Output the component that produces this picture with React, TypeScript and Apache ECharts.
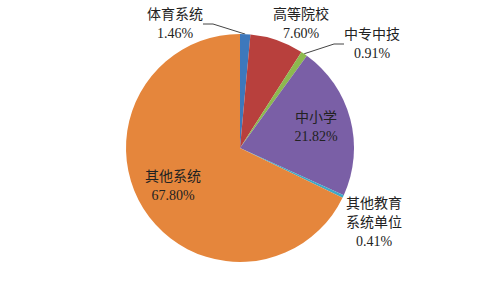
import React, { useEffect, useRef } from "react";
import * as echarts from "echarts";

const categories = ["体育系统", "高等院校", "中专中技", "中小学", "其他教育系统单位", "其他系统"];
const labelNames = ["体育系统", "高等院校", "中专中技", "中小学", "其他教育\n系统单位", "其他系统"];
const values = [1.46, 7.6, 0.91, 21.82, 0.41, 67.8];
const colors = ["#3D78BC", "#B8403D", "#8DB94F", "#7A5FA6", "#3FA8C6", "#E5863C"];
const showLine = [true, false, true, false, false, false];
const labelPos: [number, number][] = [
  [175, 24],
  [301, 24],
  [372, 44],
  [316, 127],
  [374, 222],
  [173, 186],
];

export default function App() {
  const ref = useRef<HTMLDivElement>(null);
  useEffect(() => {
    const chart = echarts.init(ref.current!, null, { renderer: "svg" });
    chart.setOption({
      animation: false,
      backgroundColor: "#ffffff",
      series: [
        {
          type: "pie",
          center: [240, 148],
          radius: 114,
          startAngle: 90,
          clockwise: true,
          avoidLabelOverlap: false,
          itemStyle: { borderWidth: 0 },
          label: {
            show: true,
            color: "#222",
            fontSize: 14,
            lineHeight: 19,
            align: "center",
            fontFamily: "Liberation Serif, Noto Sans CJK SC, serif",
            formatter: (p: any) => `${labelNames[p.dataIndex]}\n${values[p.dataIndex].toFixed(2)}%`,
          },
          labelLine: { show: false },
          labelLayout: (p: any) => ({
            x: labelPos[p.dataIndex][0],
            y: labelPos[p.dataIndex][1],
            align: "center",
            verticalAlign: "middle",
          }),
          data: categories.map((c, i) => ({
            name: c,
            value: values[i],
            itemStyle: { color: colors[i] },
            labelLine: showLine[i]
              ? { show: true, length: 10, length2: 10, lineStyle: { color: "#444", width: 1 } }
              : { show: false },
          })),
        },
      ],
    });
    return () => chart.dispose();
  }, []);
  return <div ref={ref} style={{ width: 480, height: 288, position: "absolute", left: 0, top: 0 }} />;
}
